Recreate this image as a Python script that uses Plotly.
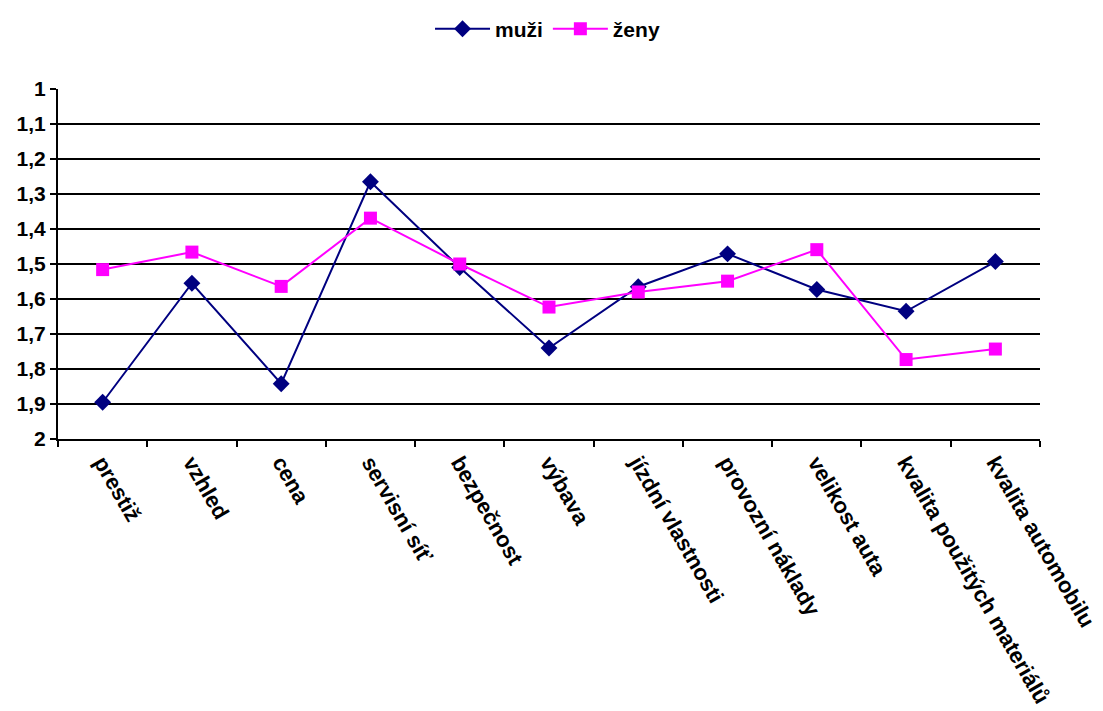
import plotly.graph_objects as go

categories = [
    "prestiž", "vzhled", "cena", "servisní síť", "bezpečnost", "výbava",
    "jízdní vlastnosti", "provozní náklady", "velikost auta",
    "kvalita použitých materiálů", "kvalita automobilu",
]
muzi = [1.895, 1.555, 1.842, 1.265, 1.51, 1.74, 1.565, 1.471, 1.573, 1.635, 1.493]
zeny = [1.516, 1.466, 1.564, 1.369, 1.50, 1.623, 1.58, 1.549, 1.459, 1.773, 1.743]

y_ticks = [1.0, 1.1, 1.2, 1.3, 1.4, 1.5, 1.6, 1.7, 1.8, 1.9, 2.0]
y_tick_text = ["1", "1,1", "1,2", "1,3", "1,4", "1,5", "1,6", "1,7", "1,8", "1,9", "2"]

FONT = "Liberation Sans, Arial, sans-serif"

fig = go.Figure()
fig.add_trace(go.Scatter(
    x=categories, y=muzi, name="muži", mode="lines+markers",
    line=dict(color="#000080", width=2),
    marker=dict(symbol="diamond", size=13, color="#000080"),
))
fig.add_trace(go.Scatter(
    x=categories, y=zeny, name="ženy", mode="lines+markers",
    line=dict(color="#FF00FF", width=2),
    marker=dict(symbol="square", size=13, color="#FF00FF"),
))

fig.update_layout(
    width=1103, height=711,
    margin=dict(l=58, r=63, t=89, b=272, autoexpand=False),
    paper_bgcolor="white", plot_bgcolor="white",
    font=dict(family=FONT, size=21, color="black"),
    showlegend=True,
    legend=dict(
        orientation="h", x=0.4985, xanchor="center", y=0.988, yanchor="top",
        yref="container", font=dict(family=FONT, size=21, color="black", weight="bold"),
        itemwidth=55, bgcolor="rgba(0,0,0,0)",
    ),
)

fig.update_xaxes(
    type="category", showgrid=False, showline=True, linecolor="black", linewidth=2,
    ticks="outside", tickson="boundaries", ticklen=6, tickwidth=2, tickcolor="black",
    tickangle=60, tickfont=dict(family=FONT, size=22, color="black", weight="bold"),
    range=[-0.5, len(categories) - 0.5], zeroline=False, automargin=False,
)
fig.update_yaxes(
    range=[2.0, 1.0], tickvals=y_ticks, ticktext=y_tick_text,
    showgrid=True, gridcolor="black", gridwidth=2,
    showline=True, linecolor="black", linewidth=2,
    ticks="outside", ticklen=6, tickwidth=2, tickcolor="black",
    tickfont=dict(family=FONT, size=21, color="black", weight="bold"),
    zeroline=False, automargin=False,
)

fig.write_html("out.html")
